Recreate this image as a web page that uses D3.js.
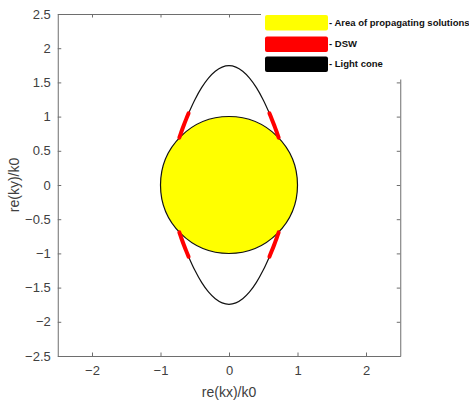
<!DOCTYPE html>
<html>
<head>
<meta charset="utf-8">
<script src="https://cdn.jsdelivr.net/npm/d3@7"></script>
<style>
  html, body { margin: 0; padding: 0; background: #fff; }
  svg { display: block; }
  text { font-family: Arial, "Liberation Sans", Helvetica, sans-serif; }
</style>
</head>
<body>
<svg id="chart" width="469" height="401"></svg>
<script>
// Axis ticks
const xTicks = [-2, -1, 0, 1, 2];
const yTicks = [-2.5, -2, -1.5, -1, -0.5, 0, 0.5, 1, 1.5, 2, 2.5];
const xDomain = [-2.5, 2.5];
const yDomain = [-2.5, 2.5];

// Area of propagating solutions: unit circle (radius in units of k0)
const circleRadius = 1;

// Light cone, upper-right branch (kx, ky) from the apex down to the circle
const coneKx = [0, 0.1, 0.2, 0.3, 0.4, 0.5, 0.59, 0.625, 0.66, 0.695, 0.725];
const coneKy = [1.744, 1.724, 1.664, 1.564, 1.424, 1.244, 1.048, 0.963, 0.873, 0.778, 0.693];

// DSW segment along the light cone, upper-right branch
const dswKx = [0.59, 0.625, 0.66, 0.695, 0.725];
const dswKy = [1.048, 0.963, 0.873, 0.778, 0.693];

// Legend entries
const legendLabels = ["- Area of propagating solutions", "- DSW", "- Light cone"];
const legendColors = ["#ffff00", "#ff0000", "#000000"];

const svg = d3.select("#chart");
const plot = { left: 57.75, right: 400.25, top: 14, bottom: 356 };

const x = d3.scaleLinear().domain(xDomain).range([plot.left, plot.right]);
const y = d3.scaleLinear().domain(yDomain).range([plot.bottom, plot.top]);

const axisColor = "#6e6e6e";
const textColor = "#404040";
const tickLen = 3.5;

// Mirror the branch into the four quadrants
const branch = coneKx.map((v, i) => [v, coneKy[i]]);
const upperArc = branch.slice().reverse().map(([a, b]) => [-a, b])
  .concat(branch.slice(1));
const lowerArc = upperArc.map(([a, b]) => [a, -b]);

const dswBranch = dswKx.map((v, i) => [v, dswKy[i]]);
const dswSegments = [
  dswBranch,
  dswBranch.map(([a, b]) => [-a, b]),
  dswBranch.map(([a, b]) => [a, -b]),
  dswBranch.map(([a, b]) => [-a, -b])
];

const line = d3.line()
  .x(d => x(d[0]))
  .y(d => y(d[1]))
  .curve(d3.curveCatmullRom.alpha(0.5));

// Light cone
svg.selectAll("path.cone")
  .data([upperArc, lowerArc])
  .join("path")
  .attr("class", "cone")
  .attr("d", line)
  .attr("fill", "none")
  .attr("stroke", "#111")
  .attr("stroke-width", 1.2);

// Area of propagating solutions
svg.append("circle")
  .attr("cx", x(0))
  .attr("cy", y(0))
  .attr("r", x(circleRadius) - x(0))
  .attr("fill", "#ffff00")
  .attr("stroke", "#111")
  .attr("stroke-width", 1.2);

// DSW
svg.selectAll("path.dsw")
  .data(dswSegments)
  .join("path")
  .attr("class", "dsw")
  .attr("d", line)
  .attr("fill", "none")
  .attr("stroke", "#ff0000")
  .attr("stroke-width", 4)
  .attr("stroke-linecap", "round");

// Axes box (ticks pointing inward on all four sides)
const axes = svg.append("g").attr("class", "axes");

const bottomAxis = d3.axisBottom(x).tickValues(xTicks).tickSize(-tickLen)
  .tickPadding(10).tickFormat(d3.format("d"));
const topAxis = d3.axisTop(x).tickValues(xTicks).tickSize(-tickLen)
  .tickFormat("");
const leftAxis = d3.axisLeft(y).tickValues(yTicks).tickSize(-tickLen)
  .tickPadding(7).tickFormat(d => d3.format("")(d));
const rightAxis = d3.axisRight(y).tickValues(yTicks).tickSize(-tickLen)
  .tickFormat("");

function styleAxis(g) {
  g.select(".domain").attr("stroke", axisColor).attr("stroke-width", 1);
  g.selectAll(".tick line").attr("stroke", axisColor);
  g.selectAll(".tick text")
    .attr("fill", textColor)
    .style("font-size", "13px");
}

axes.append("g").attr("transform", `translate(0,${plot.bottom})`)
  .call(bottomAxis.tickSizeOuter(0)).call(styleAxis);
axes.append("g").attr("transform", `translate(0,${plot.top})`)
  .call(topAxis.tickSizeOuter(0)).call(styleAxis);
axes.append("g").attr("transform", `translate(${plot.left},0)`)
  .call(leftAxis.tickSizeOuter(0)).call(styleAxis);
axes.append("g").attr("transform", `translate(${plot.right},0)`)
  .call(rightAxis.tickSizeOuter(0)).call(styleAxis);

// Axis titles
svg.append("text")
  .attr("x", x(0))
  .attr("y", 396.5)
  .attr("text-anchor", "middle")
  .attr("fill", textColor)
  .style("font-size", "14px")
  .text("re(kx)/k0");

svg.append("text")
  .attr("transform", `translate(19,${y(0)}) rotate(-90)`)
  .attr("text-anchor", "middle")
  .attr("fill", textColor)
  .style("font-size", "14px")
  .text("re(ky)/k0");

// Legend on a white panel over the top-right corner
const legend = svg.append("g").attr("class", "legend");
legend.append("rect")
  .attr("x", 261).attr("y", 0)
  .attr("width", 208).attr("height", 79.5)
  .attr("fill", "#fff");

const rowY = [15, 36.5, 56.5];
const items = legend.selectAll("g.item")
  .data(legendLabels)
  .join("g")
  .attr("class", "item")
  .attr("transform", (d, i) => `translate(265,${rowY[i]})`);

items.append("rect")
  .attr("width", 63).attr("height", 15.5)
  .attr("rx", 2).attr("ry", 2)
  .attr("fill", (d, i) => legendColors[i]);

items.append("text")
  .attr("x", 64)
  .attr("y", 7.5)
  .attr("dy", "0.35em")
  .attr("fill", "#111")
  .style("font-size", "9.5px")
  .style("font-weight", "bold")
  .text(d => d);
</script>
</body>
</html>
